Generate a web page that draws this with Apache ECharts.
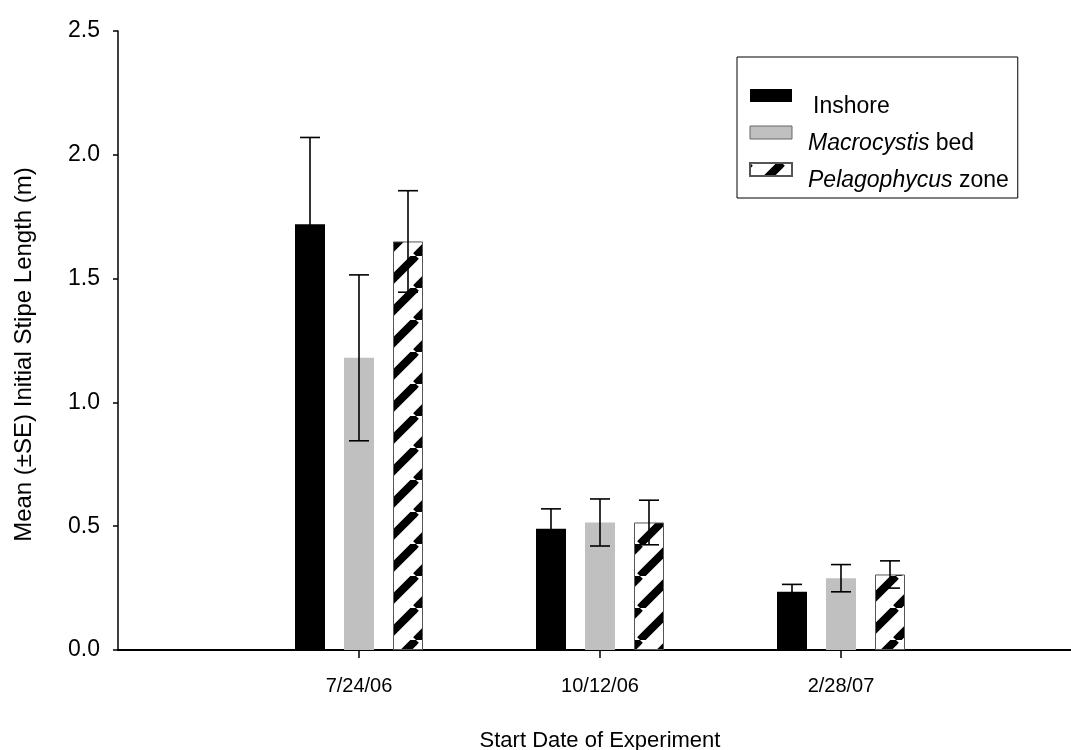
<!DOCTYPE html>
<html>
<head>
<meta charset="utf-8">
<script src="https://cdn.jsdelivr.net/npm/echarts@6/dist/echarts.min.js"></script>
<style>html,body{margin:0;padding:0;background:#fff;}#c{width:1071px;height:750px;}</style>
</head>
<body>
<div id="c"></div>
<script>
var categories = ['7/24/06', '10/12/06', '2/28/07'];
var inshore = [1.72, 0.49, 0.235];
var inshoreSE = [0.35, 0.08, 0.03];
var macrocystis = [1.18, 0.515, 0.29];
var macrocystisSE = [0.335, 0.095, 0.055];
var pelagophycus = [1.65, 0.515, 0.305];
var pelagophycusSE = [0.205, 0.09, 0.055];
var yTicks = [0, 0.5, 1.0, 1.5, 2.0, 2.5];

var FONT = 'Liberation Sans, Arial, sans-serif';
var FS = 23;
var BAR_W = 30, BAR_GAP = 19;

// hatch pattern
var P = 32;
var cv = document.createElement('canvas');
cv.width = P; cv.height = P;
var cx = cv.getContext('2d');
cx.fillStyle = '#fff'; cx.fillRect(0, 0, P, P);
cx.strokeStyle = '#000'; cx.lineWidth = 8;
for (var k = -1; k <= 1; k++) {
  cx.beginPath(); cx.moveTo(k * P, P); cx.lineTo(k * P + P, 0); cx.stroke();
}
var hatch = { image: cv, repeat: 'repeat' };

var chart = echarts.init(document.getElementById('c'), null, { renderer: 'canvas' });

function errSeries(vals, ses, idx) {
  var data = vals.map(function (v, i) { return [i, v, ses[i]]; });
  return {
    type: 'custom', xAxisIndex: 1, yAxisIndex: 1, z: 10, silent: true,
    data: data,
    encode: { x: 0, y: 1 },
    renderItem: function (params, api) {
      var i = api.value(0), v = api.value(1), se = api.value(2);
      var off = (idx - 1) * (BAR_W + BAR_GAP);
      var top = api.coord([i, v + se]);
      var bot = api.coord([i, v - se]);
      var x = top[0] + off;
      var hw = 10;
      var st = { stroke: '#000', lineWidth: 1.6 };
      return { type: 'group', children: [
        { type: 'line', shape: { x1: x, y1: top[1], x2: x, y2: bot[1] }, style: st },
        { type: 'line', shape: { x1: x - hw, y1: top[1], x2: x + hw, y2: top[1] }, style: st },
        { type: 'line', shape: { x1: x - hw, y1: bot[1], x2: x + hw, y2: bot[1] }, style: st }
      ]};
    }
  };
}

var option = {
  animation: false,
  backgroundColor: '#fff',
  textStyle: { fontFamily: FONT, color: '#000' },
  grid: [
    { left: 118, right: 0, top: 31, bottom: 100, outerBoundsMode: 'none', containLabel: false },
    { left: 238.5, right: 109.5, top: 31, bottom: 100, outerBoundsMode: 'none', containLabel: false }
  ],
  legend: {
    orient: 'vertical', left: 737, top: 57,
    borderColor: '#000', borderWidth: 1, borderRadius: 0,
    padding: [15.5, 9, 5.5, 12],
    itemWidth: 42, itemHeight: 13, itemGap: -9,
    icon: 'rect',
    data: [
      { name: 'Inshore' },
      { name: 'Macrocystis bed', itemStyle: { borderColor: '#666', borderWidth: 1 } },
      { name: 'Pelagophycus zone' }
    ],
    formatter: function (name) {
      if (name === 'Inshore') return '{p|Inshore}';
      if (name === 'Macrocystis bed') return '{pi|Macrocystis}{q| bed}';
      return '{pi|Pelagophycus}{q| zone}';
    },
    textStyle: {
      fontFamily: FONT, fontSize: FS, color: '#000',
      rich: {
        p: { fontFamily: FONT, fontSize: FS, padding: [23, 0, 0, 16], lineHeight: 23 },
        pi: { fontFamily: FONT, fontSize: FS, fontStyle: 'italic', padding: [23, 0, 0, 11], lineHeight: 23 },
        q: { fontFamily: FONT, fontSize: FS, padding: [23, 0, 0, 0], lineHeight: 23 }
      }
    }
  },
  xAxis: [
    { type: 'value', gridIndex: 0, min: 0, max: 1,
      axisLine: { show: true, lineStyle: { color: '#000', width: 2 } },
      axisTick: { show: false }, axisLabel: { show: false }, splitLine: { show: false } },
    { type: 'category', gridIndex: 1, data: categories,
      axisLine: { show: false },
      axisTick: { show: true, alignWithLabel: true, length: 8, lineStyle: { color: '#000', width: 1.5 } },
      axisLabel: { fontFamily: FONT, fontSize: 20, color: '#000', margin: 26 },
      name: 'Start Date of Experiment', nameLocation: 'middle', nameGap: 80,
      nameTextStyle: { fontFamily: FONT, fontSize: 22, color: '#000' } }
  ],
  yAxis: [
    { type: 'value', gridIndex: 0, min: 0, max: 2.5, interval: 0.5,
      axisLine: { show: true, lineStyle: { color: '#000', width: 1.5 } },
      axisTick: { show: true, length: 5, lineStyle: { color: '#000', width: 1.5 } },
      axisLabel: { fontFamily: FONT, fontSize: FS, color: '#000', margin: 18,
        formatter: function (v) { return v.toFixed(1); } },
      splitLine: { show: false },
      name: 'Mean (±SE) Initial Stipe Length (m)', nameLocation: 'middle', nameGap: 82,
      nameTextStyle: { fontFamily: FONT, fontSize: 24, color: '#000', padding: [0, 28, 0, 0] } },
    { type: 'value', gridIndex: 1, min: 0, max: 2.5, interval: 0.5, show: false }
  ],
  series: [
    { name: 'Inshore', type: 'bar', xAxisIndex: 1, yAxisIndex: 1, data: inshore,
      barWidth: BAR_W, barGap: (BAR_GAP / BAR_W * 100) + '%',
      itemStyle: { color: '#000' } },
    { name: 'Macrocystis bed', type: 'bar', xAxisIndex: 1, yAxisIndex: 1, data: macrocystis,
      barWidth: BAR_W, barGap: (BAR_GAP / BAR_W * 100) + '%',
      itemStyle: { color: '#c0c0c0' } },
    { name: 'Pelagophycus zone', type: 'bar', xAxisIndex: 1, yAxisIndex: 1, data: pelagophycus,
      barWidth: BAR_W, barGap: (BAR_GAP / BAR_W * 100) + '%',
      itemStyle: { color: hatch, borderColor: '#555', borderWidth: 1 } },
    errSeries(inshore, inshoreSE, 0),
    errSeries(macrocystis, macrocystisSE, 1),
    errSeries(pelagophycus, pelagophycusSE, 2)
  ]
};
chart.setOption(option);
</script>
</body>
</html>
